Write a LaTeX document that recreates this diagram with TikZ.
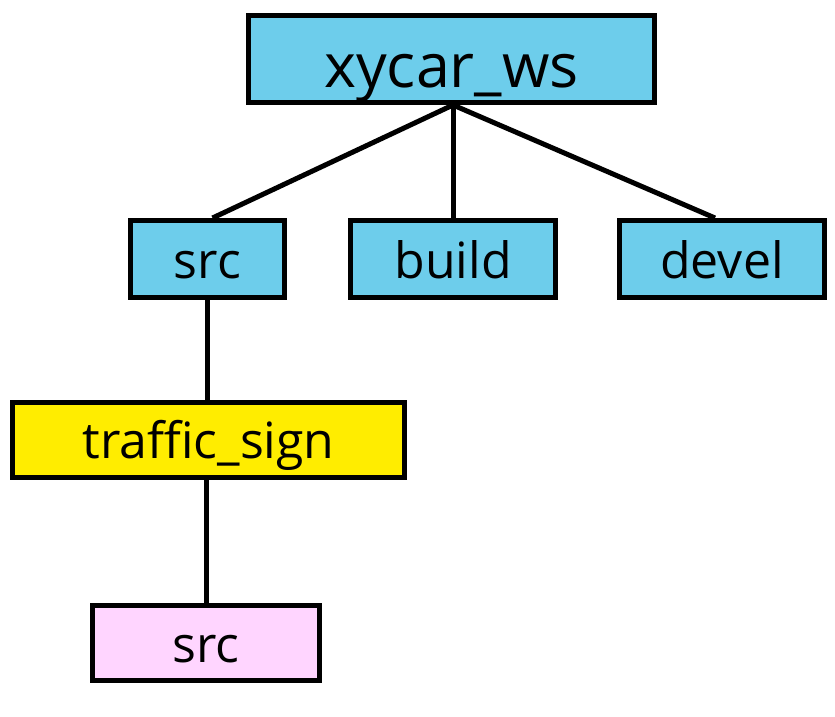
\documentclass[tikz,border=0pt]{standalone}
\usepackage{fontspec}
\setmainfont{Open Sans}
\definecolor{boxblue}{HTML}{6DCDEB}
\definecolor{boxyellow}{HTML}{FFED00}
\definecolor{boxpink}{HTML}{FFD5FF}
\begin{document}
\begin{tikzpicture}[x=1pt,y=-1pt,
  dirbox/.style={draw=black,line width=5pt,inner sep=0pt,text height=38pt,text depth=0pt,font=\fontsize{50}{54}\selectfont},
  link/.style={draw=black,line width=5pt}]
\useasboundingbox (0,0) rectangle (835,717);
\node[dirbox,fill=boxblue,minimum width=406pt,minimum height=87pt,text height=56pt,font=\fontsize{61}{66}\selectfont] (root) at (451.5,59) {xycar\_ws};
\node[dirbox,fill=boxblue,minimum width=154pt,minimum height=77pt] (src) at (207.5,259) {src};
\node[dirbox,fill=boxblue,minimum width=205pt,minimum height=77pt] (build) at (453,259) {build};
\node[dirbox,fill=boxblue,minimum width=205pt,minimum height=77pt] (devel) at (722,259) {devel};
\node[dirbox,fill=boxyellow,minimum width=392pt,minimum height=75pt,text height=36pt] (ts) at (208.5,440) {traffic\_sign};
\node[dirbox,fill=boxpink,minimum width=227pt,minimum height=75pt] (psrc) at (206,643) {src};
\coordinate (hub) at ([xshift=1.5pt]root.south);
\draw[link] (hub) -- ([xshift=5pt]src.north);
\draw[link] (hub) -- (build.north);
\draw[link] (hub) -- ([xshift=-7pt]devel.north);
\draw[link] (src.south) -- (src.south |- ts.north);
\draw[link] (ts.south -| psrc.north) -- (psrc.north);
\end{tikzpicture}
\end{document}
